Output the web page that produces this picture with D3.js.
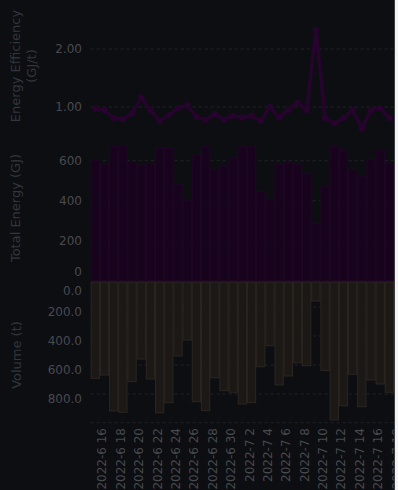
<!DOCTYPE html>
<html>
<head>
<meta charset="utf-8">
<script src="https://cdn.jsdelivr.net/npm/d3@7"></script>
<style>
  html, body { margin: 0; padding: 0; background: #ffffff; }
  svg { display: block; }
  text { font-family: "DejaVu Sans", sans-serif; }
</style>
</head>
<body>
<svg id="chart" width="398" height="490"></svg>
<script>
// ---- data ----
const dates = ["2022-6-16","2022-6-17","2022-6-18","2022-6-19","2022-6-20","2022-6-21","2022-6-22","2022-6-23",
  "2022-6-24","2022-6-25","2022-6-26","2022-6-27","2022-6-28","2022-6-29","2022-6-30","2022-7-1","2022-7-2",
  "2022-7-3","2022-7-4","2022-7-5","2022-7-6","2022-7-7","2022-7-8","2022-7-9","2022-7-10","2022-7-11",
  "2022-7-12","2022-7-13","2022-7-14","2022-7-15","2022-7-16","2022-7-17","2022-7-18"];
const efficiency = [0.97,0.95,0.81,0.79,0.89,1.16,0.95,0.76,0.86,0.98,1.03,0.83,0.78,0.88,0.78,0.85,0.82,
  0.85,0.76,1.00,0.82,0.95,1.07,0.95,2.33,0.81,0.72,0.81,0.95,0.63,0.95,0.98,0.81];
const totalEnergy = [603,583,670,677,595,578,587,662,662,483,403,628,670,557,573,615,670,670,445,407,
  583,590,583,537,287,470,670,650,557,523,607,650,587];
const volume = [692,669,917,926,715,559,697,929,860,538,428,853,915,688,777,788,869,860,612,467,738,676,
  584,605,159,639,979,881,664,888,703,731,788];
const effTicks = [1, 2];
const energyTicks = [0, 200, 400, 600];
const volumeTicks = [0, 200, 400, 600, 800];

// ---- layout ----
const svg = d3.select("#chart");
const W = 395, H = 490;
const plotL = 90.7, plotR = 394;
const bg = "#0d0e12";
const gridColor = "#212328";
const tickColor = "#484a4e";
const titleColor = "#32363d";

svg.append("rect").attr("x", 0).attr("y", 0).attr("width", W).attr("height", H).attr("fill", bg);

const x = d3.scaleBand().domain(dates).range([plotL, plotR]).paddingInner(0.1).paddingOuter(0.05);
const cx = d => x(d) + x.bandwidth() / 2;

const yEff = d3.scaleLinear().domain([0, 2]).range([165, 49]);
const yEn = d3.scaleLinear().domain([0, 700]).range([280.7, 140.7]);
const yVol = d3.scaleLinear().domain([0, 1000]).range([278, 423]);
const volTop = 282;

function hgrid(y) {
  svg.append("line").attr("x1", plotL).attr("x2", plotR).attr("y1", y).attr("y2", y)
    .attr("stroke", gridColor).attr("stroke-width", 1).attr("stroke-dasharray", "3,3");
}

// gridlines
effTicks.forEach(t => hgrid(yEff(t)));
energyTicks.filter(t => t > 0).forEach(t => hgrid(yEn(t)));
volumeTicks.filter(t => t > 0).forEach(t => hgrid(yVol(t)));
hgrid(422.7);

// ---- bottom panel: volume (downward bars) ----
svg.append("g").selectAll("rect").data(dates).join("rect")
  .attr("x", d => x(d))
  .attr("y", volTop)
  .attr("width", x.bandwidth())
  .attr("height", (d, i) => Math.max(0, yVol(volume[i]) - volTop))
  .attr("fill", "#1d1a17")
  .attr("fill-opacity", 0.9)
  .attr("stroke", "#2c2621")
  .attr("stroke-width", 1);

// ---- middle panel: total energy bars ----
svg.append("g").selectAll("rect").data(dates).join("rect")
  .attr("x", d => x(d))
  .attr("y", (d, i) => yEn(totalEnergy[i]))
  .attr("width", x.bandwidth())
  .attr("height", (d, i) => yEn(0) - yEn(totalEnergy[i]))
  .attr("fill", "#18041e")
  .attr("fill-opacity", 0.95)
  .attr("stroke", "#210627")
  .attr("stroke-width", 1);

// ---- top panel: efficiency line ----
const line = d3.line().x((d, i) => cx(dates[i])).y(d => yEff(d));
svg.append("path").datum(efficiency).attr("d", line)
  .attr("fill", "none").attr("stroke", "#26042d").attr("stroke-width", 3.5)
  .attr("stroke-linejoin", "round");
svg.append("g").selectAll("circle").data(efficiency).join("circle")
  .attr("cx", (d, i) => cx(dates[i])).attr("cy", d => yEff(d)).attr("r", 3.2)
  .attr("fill", "#26042d");

// ---- y tick labels ----
const tickX = 82;
effTicks.forEach(t => {
  svg.append("text").attr("x", tickX).attr("y", yEff(t)).attr("dy", "0.35em")
    .attr("text-anchor", "end").attr("font-size", 12).attr("fill", tickColor).text(d3.format(".2f")(t));
});
energyTicks.forEach(t => {
  svg.append("text").attr("x", tickX).attr("y", t === 0 ? yEn(t) - 9 : yEn(t)).attr("dy", "0.35em")
    .attr("text-anchor", "end").attr("font-size", 12).attr("fill", tickColor).text(t);
});
volumeTicks.forEach(t => {
  svg.append("text").attr("x", tickX).attr("y", t === 0 ? 291 : yVol(t) + 5).attr("dy", "0.35em")
    .attr("text-anchor", "end").attr("font-size", 12).attr("fill", tickColor).text(d3.format(".1f")(t));
});

// ---- x tick labels ----
const fmtLabel = d => { const p = d.split("-"); return p[0] + "-" + p[1] + " " + p[2]; };
dates.forEach((d, i) => {
  if (i % 2 !== 0) return;
  svg.append("text")
    .attr("transform", `translate(${cx(d) + 7},428) rotate(-90)`)
    .attr("dy", "0.35em").attr("text-anchor", "end")
    .attr("font-size", 12).attr("fill", tickColor).text(fmtLabel(d));
});

// ---- axis titles ----
function vtitle(lines, xc, yc) {
  const t = svg.append("text").attr("transform", `translate(${xc},${yc}) rotate(-90)`)
    .attr("text-anchor", "middle").attr("font-size", 13).attr("fill", titleColor);
  lines.forEach((s, k) => {
    t.append("tspan").attr("x", 0).attr("dy", k === 0 ? `${0.35 - (lines.length - 1) * 0.6}em` : "1.2em").text(s);
  });
}
vtitle(["Energy Efficiency", "(GJ/t)"], 23.5, 66);
vtitle(["Total Energy (GJ)"], 15, 208);
vtitle(["Volume (t)"], 16, 355);

// right edge
svg.append("line").attr("x1", 394.5).attr("x2", 394.5).attr("y1", 0).attr("y2", H)
  .attr("stroke", "#3a3c40").attr("stroke-width", 1);
svg.append("rect").attr("x", 395).attr("y", 0).attr("width", 3).attr("height", H).attr("fill", "#f4f4f4");
</script>
</body>
</html>
